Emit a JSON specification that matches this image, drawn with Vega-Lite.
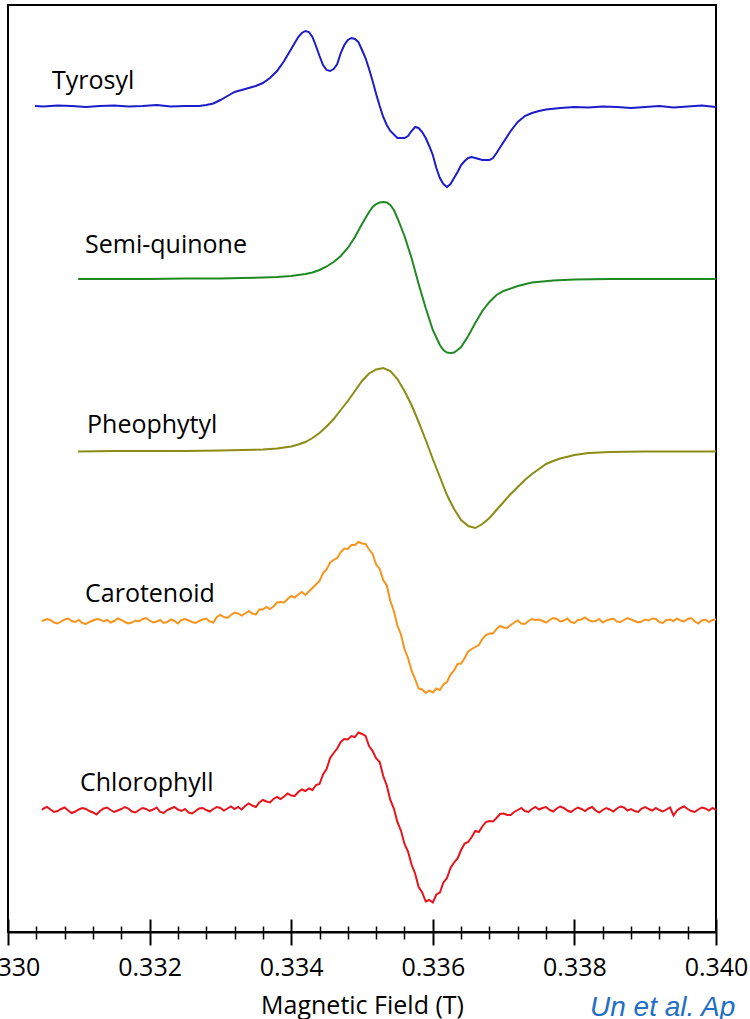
{
"$schema": "https://vega.github.io/schema/vega-lite/v6.json",
"autosize": {"type": "none"},
"width": 708,
"height": 927,
"padding": {"left": 8, "top": 5, "right": 34, "bottom": 87},
"background": "white",
"title": {"text": "Un et al. Ap", "orient": "bottom", "anchor": "end", "frame": "group", "align": "left", "dx": -126, "offset": -24, "color": "#1f6fc5", "font": "Liberation Sans", "fontStyle": "italic", "fontWeight": "normal", "fontSize": 28},
"config": {"view": {"stroke": "black", "strokeWidth": 2}, "axis": {"grid": false}},
"datasets": {
"labels": [
{"label": "Tyrosyl", "B": 0.330621, "amp": 843},
{"label": "Semi-quinone", "B": 0.331088, "amp": 679},
{"label": "Pheophytyl", "B": 0.331116, "amp": 499},
{"label": "Carotenoid", "B": 0.331088, "amp": 330},
{"label": "Chlorophyll", "B": 0.331017, "amp": 141}
],
"spectra": [
{"series":"Tyrosyl","B":0.33038,"amp":826},{"series":"Tyrosyl","B":0.3305,"amp":825.5},{"series":"Tyrosyl","B":0.3307,"amp":826.5},{"series":"Tyrosyl","B":0.3309,"amp":826},{"series":"Tyrosyl","B":0.3311,"amp":825},{"series":"Tyrosyl","B":0.3313,"amp":826},{"series":"Tyrosyl","B":0.3315,"amp":826.5},{"series":"Tyrosyl","B":0.3317,"amp":825.5},{"series":"Tyrosyl","B":0.3319,"amp":826},{"series":"Tyrosyl","B":0.3321,"amp":827},{"series":"Tyrosyl","B":0.3323,"amp":825.5},{"series":"Tyrosyl","B":0.3325,"amp":826},{"series":"Tyrosyl","B":0.3327,"amp":826},{"series":"Tyrosyl","B":0.3328,"amp":827},{"series":"Tyrosyl","B":0.3329,"amp":828.5},{"series":"Tyrosyl","B":0.333,"amp":832},{"series":"Tyrosyl","B":0.3331,"amp":836},{"series":"Tyrosyl","B":0.3332,"amp":840},{"series":"Tyrosyl","B":0.3333,"amp":842},{"series":"Tyrosyl","B":0.3334,"amp":844},{"series":"Tyrosyl","B":0.3335,"amp":846},{"series":"Tyrosyl","B":0.3336,"amp":849},{"series":"Tyrosyl","B":0.3337,"amp":854},{"series":"Tyrosyl","B":0.3338,"amp":861},{"series":"Tyrosyl","B":0.3339,"amp":871},{"series":"Tyrosyl","B":0.334,"amp":883},{"series":"Tyrosyl","B":0.3341,"amp":895},{"series":"Tyrosyl","B":0.33415,"amp":899},{"series":"Tyrosyl","B":0.3342,"amp":901},{"series":"Tyrosyl","B":0.33425,"amp":900},{"series":"Tyrosyl","B":0.3343,"amp":895},{"series":"Tyrosyl","B":0.33435,"amp":886},{"series":"Tyrosyl","B":0.3344,"amp":876},{"series":"Tyrosyl","B":0.33445,"amp":867},{"series":"Tyrosyl","B":0.3345,"amp":862},{"series":"Tyrosyl","B":0.33455,"amp":861},{"series":"Tyrosyl","B":0.3346,"amp":863},{"series":"Tyrosyl","B":0.33465,"amp":868},{"series":"Tyrosyl","B":0.3347,"amp":879},{"series":"Tyrosyl","B":0.33475,"amp":887},{"series":"Tyrosyl","B":0.3348,"amp":892},{"series":"Tyrosyl","B":0.33485,"amp":894},{"series":"Tyrosyl","B":0.3349,"amp":893},{"series":"Tyrosyl","B":0.33495,"amp":890},{"series":"Tyrosyl","B":0.335,"amp":882},{"series":"Tyrosyl","B":0.33505,"amp":874},{"series":"Tyrosyl","B":0.3351,"amp":863},{"series":"Tyrosyl","B":0.33515,"amp":851},{"series":"Tyrosyl","B":0.3352,"amp":838},{"series":"Tyrosyl","B":0.33525,"amp":826},{"series":"Tyrosyl","B":0.3353,"amp":815},{"series":"Tyrosyl","B":0.33535,"amp":807},{"series":"Tyrosyl","B":0.3354,"amp":801},{"series":"Tyrosyl","B":0.3355,"amp":794},{"series":"Tyrosyl","B":0.3356,"amp":794},{"series":"Tyrosyl","B":0.33565,"amp":796},{"series":"Tyrosyl","B":0.3357,"amp":801},{"series":"Tyrosyl","B":0.33575,"amp":805},{"series":"Tyrosyl","B":0.3358,"amp":804},{"series":"Tyrosyl","B":0.33585,"amp":800},{"series":"Tyrosyl","B":0.3359,"amp":794},{"series":"Tyrosyl","B":0.33595,"amp":786},{"series":"Tyrosyl","B":0.336,"amp":777},{"series":"Tyrosyl","B":0.33605,"amp":764},{"series":"Tyrosyl","B":0.3361,"amp":754},{"series":"Tyrosyl","B":0.33615,"amp":748},{"series":"Tyrosyl","B":0.3362,"amp":745},{"series":"Tyrosyl","B":0.33625,"amp":748},{"series":"Tyrosyl","B":0.3363,"amp":754},{"series":"Tyrosyl","B":0.33635,"amp":760},{"series":"Tyrosyl","B":0.3364,"amp":767},{"series":"Tyrosyl","B":0.33645,"amp":771},{"series":"Tyrosyl","B":0.3365,"amp":774},{"series":"Tyrosyl","B":0.33655,"amp":775},{"series":"Tyrosyl","B":0.3366,"amp":774},{"series":"Tyrosyl","B":0.3367,"amp":772},{"series":"Tyrosyl","B":0.3368,"amp":772},{"series":"Tyrosyl","B":0.33685,"amp":774},{"series":"Tyrosyl","B":0.3369,"amp":779},{"series":"Tyrosyl","B":0.337,"amp":790},{"series":"Tyrosyl","B":0.3371,"amp":801},{"series":"Tyrosyl","B":0.3372,"amp":810},{"series":"Tyrosyl","B":0.3373,"amp":816},{"series":"Tyrosyl","B":0.3374,"amp":819},{"series":"Tyrosyl","B":0.3375,"amp":821},{"series":"Tyrosyl","B":0.3376,"amp":822.5},{"series":"Tyrosyl","B":0.3378,"amp":824},{"series":"Tyrosyl","B":0.338,"amp":825},{"series":"Tyrosyl","B":0.3382,"amp":824.5},{"series":"Tyrosyl","B":0.3384,"amp":825.5},{"series":"Tyrosyl","B":0.3386,"amp":825},{"series":"Tyrosyl","B":0.3388,"amp":824},{"series":"Tyrosyl","B":0.339,"amp":825},{"series":"Tyrosyl","B":0.3392,"amp":826},{"series":"Tyrosyl","B":0.3394,"amp":824.5},{"series":"Tyrosyl","B":0.3396,"amp":825.5},{"series":"Tyrosyl","B":0.3398,"amp":826.5},{"series":"Tyrosyl","B":0.34,"amp":825},

{"series":"Semi-quinone","B":0.33099,"amp":653},{"series":"Semi-quinone","B":0.3315,"amp":653},{"series":"Semi-quinone","B":0.332,"amp":653},{"series":"Semi-quinone","B":0.3325,"amp":653.5},{"series":"Semi-quinone","B":0.333,"amp":653.5},{"series":"Semi-quinone","B":0.3333,"amp":654},{"series":"Semi-quinone","B":0.3336,"amp":654.5},{"series":"Semi-quinone","B":0.3338,"amp":655},{"series":"Semi-quinone","B":0.334,"amp":656},{"series":"Semi-quinone","B":0.3342,"amp":658},{"series":"Semi-quinone","B":0.3343,"amp":659.5},{"series":"Semi-quinone","B":0.3344,"amp":662},{"series":"Semi-quinone","B":0.3345,"amp":665.5},{"series":"Semi-quinone","B":0.3346,"amp":670},{"series":"Semi-quinone","B":0.3347,"amp":676},{"series":"Semi-quinone","B":0.3348,"amp":684},{"series":"Semi-quinone","B":0.3349,"amp":695},{"series":"Semi-quinone","B":0.335,"amp":708},{"series":"Semi-quinone","B":0.3351,"amp":720},{"series":"Semi-quinone","B":0.33515,"amp":725},{"series":"Semi-quinone","B":0.3352,"amp":728},{"series":"Semi-quinone","B":0.33525,"amp":729.5},{"series":"Semi-quinone","B":0.3353,"amp":730},{"series":"Semi-quinone","B":0.33535,"amp":729.5},{"series":"Semi-quinone","B":0.3354,"amp":727},{"series":"Semi-quinone","B":0.33545,"amp":722},{"series":"Semi-quinone","B":0.3355,"amp":714},{"series":"Semi-quinone","B":0.3356,"amp":696},{"series":"Semi-quinone","B":0.3357,"amp":674},{"series":"Semi-quinone","B":0.3358,"amp":648},{"series":"Semi-quinone","B":0.3359,"amp":624},{"series":"Semi-quinone","B":0.336,"amp":602},{"series":"Semi-quinone","B":0.3361,"amp":587},{"series":"Semi-quinone","B":0.33615,"amp":582},{"series":"Semi-quinone","B":0.3362,"amp":579.5},{"series":"Semi-quinone","B":0.33625,"amp":579},{"series":"Semi-quinone","B":0.3363,"amp":579.5},{"series":"Semi-quinone","B":0.33635,"amp":582},{"series":"Semi-quinone","B":0.3364,"amp":585},{"series":"Semi-quinone","B":0.3365,"amp":596},{"series":"Semi-quinone","B":0.3366,"amp":609},{"series":"Semi-quinone","B":0.3367,"amp":621},{"series":"Semi-quinone","B":0.3368,"amp":630},{"series":"Semi-quinone","B":0.3369,"amp":637},{"series":"Semi-quinone","B":0.337,"amp":641},{"series":"Semi-quinone","B":0.3372,"amp":646},{"series":"Semi-quinone","B":0.3374,"amp":649.5},{"series":"Semi-quinone","B":0.3377,"amp":651.5},{"series":"Semi-quinone","B":0.338,"amp":652.5},{"series":"Semi-quinone","B":0.3385,"amp":653},{"series":"Semi-quinone","B":0.339,"amp":653},{"series":"Semi-quinone","B":0.3395,"amp":653},{"series":"Semi-quinone","B":0.34,"amp":653},

{"series":"Pheophytyl","B":0.33099,"amp":480.5},{"series":"Pheophytyl","B":0.3315,"amp":481},{"series":"Pheophytyl","B":0.332,"amp":481},{"series":"Pheophytyl","B":0.3325,"amp":481},{"series":"Pheophytyl","B":0.333,"amp":481.5},{"series":"Pheophytyl","B":0.3333,"amp":482},{"series":"Pheophytyl","B":0.3336,"amp":482.5},{"series":"Pheophytyl","B":0.3338,"amp":483.5},{"series":"Pheophytyl","B":0.334,"amp":485.5},{"series":"Pheophytyl","B":0.3341,"amp":487.5},{"series":"Pheophytyl","B":0.3342,"amp":490},{"series":"Pheophytyl","B":0.3343,"amp":494},{"series":"Pheophytyl","B":0.3344,"amp":499},{"series":"Pheophytyl","B":0.3345,"amp":505.5},{"series":"Pheophytyl","B":0.3346,"amp":513},{"series":"Pheophytyl","B":0.3347,"amp":522},{"series":"Pheophytyl","B":0.3348,"amp":531},{"series":"Pheophytyl","B":0.3349,"amp":541},{"series":"Pheophytyl","B":0.335,"amp":551},{"series":"Pheophytyl","B":0.3351,"amp":558.5},{"series":"Pheophytyl","B":0.3352,"amp":562.5},{"series":"Pheophytyl","B":0.3353,"amp":564},{"series":"Pheophytyl","B":0.3354,"amp":561},{"series":"Pheophytyl","B":0.3355,"amp":553},{"series":"Pheophytyl","B":0.3356,"amp":541},{"series":"Pheophytyl","B":0.3357,"amp":527},{"series":"Pheophytyl","B":0.3358,"amp":510},{"series":"Pheophytyl","B":0.3359,"amp":492},{"series":"Pheophytyl","B":0.336,"amp":473},{"series":"Pheophytyl","B":0.3361,"amp":455},{"series":"Pheophytyl","B":0.3362,"amp":437},{"series":"Pheophytyl","B":0.3363,"amp":423},{"series":"Pheophytyl","B":0.3364,"amp":412},{"series":"Pheophytyl","B":0.3365,"amp":406},{"series":"Pheophytyl","B":0.3366,"amp":404},{"series":"Pheophytyl","B":0.3367,"amp":408},{"series":"Pheophytyl","B":0.3368,"amp":414},{"series":"Pheophytyl","B":0.3369,"amp":422},{"series":"Pheophytyl","B":0.337,"amp":430},{"series":"Pheophytyl","B":0.3371,"amp":438},{"series":"Pheophytyl","B":0.3372,"amp":445},{"series":"Pheophytyl","B":0.3373,"amp":452},{"series":"Pheophytyl","B":0.3374,"amp":458},{"series":"Pheophytyl","B":0.3375,"amp":463},{"series":"Pheophytyl","B":0.3376,"amp":468},{"series":"Pheophytyl","B":0.3377,"amp":471},{"series":"Pheophytyl","B":0.3378,"amp":473.5},{"series":"Pheophytyl","B":0.338,"amp":477},{"series":"Pheophytyl","B":0.3382,"amp":479},{"series":"Pheophytyl","B":0.3385,"amp":480},{"series":"Pheophytyl","B":0.339,"amp":480.5},{"series":"Pheophytyl","B":0.3395,"amp":480.5},{"series":"Pheophytyl","B":0.34,"amp":480.5},

{"series":"Carotenoid","B":0.33048,"amp":311},{"series":"Carotenoid","B":0.3305,"amp":311.5},{"series":"Carotenoid","B":0.33055,"amp":313},{"series":"Carotenoid","B":0.3306,"amp":312},{"series":"Carotenoid","B":0.33065,"amp":309.5},{"series":"Carotenoid","B":0.3307,"amp":308.5},{"series":"Carotenoid","B":0.33075,"amp":310.5},{"series":"Carotenoid","B":0.3308,"amp":312.5},{"series":"Carotenoid","B":0.33085,"amp":313.5},{"series":"Carotenoid","B":0.3309,"amp":311},{"series":"Carotenoid","B":0.33095,"amp":310},{"series":"Carotenoid","B":0.331,"amp":312},{"series":"Carotenoid","B":0.33105,"amp":309},{"series":"Carotenoid","B":0.3311,"amp":308},{"series":"Carotenoid","B":0.33115,"amp":310},{"series":"Carotenoid","B":0.3312,"amp":311.5},{"series":"Carotenoid","B":0.33125,"amp":313},{"series":"Carotenoid","B":0.3313,"amp":312.5},{"series":"Carotenoid","B":0.33135,"amp":310.5},{"series":"Carotenoid","B":0.3314,"amp":312},{"series":"Carotenoid","B":0.33145,"amp":309.5},{"series":"Carotenoid","B":0.3315,"amp":311},{"series":"Carotenoid","B":0.33155,"amp":313.5},{"series":"Carotenoid","B":0.3316,"amp":312},{"series":"Carotenoid","B":0.33165,"amp":310},{"series":"Carotenoid","B":0.3317,"amp":308.5},{"series":"Carotenoid","B":0.33175,"amp":309.5},{"series":"Carotenoid","B":0.3318,"amp":311.5},{"series":"Carotenoid","B":0.33185,"amp":310.5},{"series":"Carotenoid","B":0.3319,"amp":313},{"series":"Carotenoid","B":0.33195,"amp":314},{"series":"Carotenoid","B":0.332,"amp":311.5},{"series":"Carotenoid","B":0.33205,"amp":309.5},{"series":"Carotenoid","B":0.3321,"amp":310.5},{"series":"Carotenoid","B":0.33215,"amp":312},{"series":"Carotenoid","B":0.3322,"amp":309},{"series":"Carotenoid","B":0.33225,"amp":310},{"series":"Carotenoid","B":0.3323,"amp":312.5},{"series":"Carotenoid","B":0.33235,"amp":311},{"series":"Carotenoid","B":0.3324,"amp":308.5},{"series":"Carotenoid","B":0.33245,"amp":312},{"series":"Carotenoid","B":0.3325,"amp":313},{"series":"Carotenoid","B":0.33255,"amp":311.5},{"series":"Carotenoid","B":0.3326,"amp":310},{"series":"Carotenoid","B":0.33265,"amp":309},{"series":"Carotenoid","B":0.3327,"amp":311},{"series":"Carotenoid","B":0.33275,"amp":312.5},{"series":"Carotenoid","B":0.3328,"amp":313.5},{"series":"Carotenoid","B":0.33285,"amp":310.5},{"series":"Carotenoid","B":0.3329,"amp":309.5},{"series":"Carotenoid","B":0.33295,"amp":315},{"series":"Carotenoid","B":0.333,"amp":317},{"series":"Carotenoid","B":0.33305,"amp":315},{"series":"Carotenoid","B":0.3331,"amp":314},{"series":"Carotenoid","B":0.33315,"amp":317},{"series":"Carotenoid","B":0.3332,"amp":319.5},{"series":"Carotenoid","B":0.33325,"amp":318.5},{"series":"Carotenoid","B":0.3333,"amp":316.5},{"series":"Carotenoid","B":0.33335,"amp":318.5},{"series":"Carotenoid","B":0.3334,"amp":321},{"series":"Carotenoid","B":0.33345,"amp":318.5},{"series":"Carotenoid","B":0.3335,"amp":317.5},{"series":"Carotenoid","B":0.33355,"amp":322.5},{"series":"Carotenoid","B":0.3336,"amp":322.5},{"series":"Carotenoid","B":0.33365,"amp":325},{"series":"Carotenoid","B":0.3337,"amp":323},{"series":"Carotenoid","B":0.33375,"amp":325.5},{"series":"Carotenoid","B":0.3338,"amp":329.5},{"series":"Carotenoid","B":0.33385,"amp":330},{"series":"Carotenoid","B":0.3339,"amp":329.5},{"series":"Carotenoid","B":0.33395,"amp":333},{"series":"Carotenoid","B":0.334,"amp":336},{"series":"Carotenoid","B":0.33405,"amp":334.5},{"series":"Carotenoid","B":0.3341,"amp":337.5},{"series":"Carotenoid","B":0.33415,"amp":340},{"series":"Carotenoid","B":0.3342,"amp":337},{"series":"Carotenoid","B":0.33425,"amp":340.5},{"series":"Carotenoid","B":0.3343,"amp":344},{"series":"Carotenoid","B":0.33435,"amp":347.5},{"series":"Carotenoid","B":0.3344,"amp":351},{"series":"Carotenoid","B":0.33445,"amp":359},{"series":"Carotenoid","B":0.3345,"amp":362.5},{"series":"Carotenoid","B":0.33455,"amp":369.5},{"series":"Carotenoid","B":0.3346,"amp":372},{"series":"Carotenoid","B":0.33465,"amp":374},{"series":"Carotenoid","B":0.3347,"amp":380},{"series":"Carotenoid","B":0.33475,"amp":383.5},{"series":"Carotenoid","B":0.3348,"amp":383},{"series":"Carotenoid","B":0.33485,"amp":387},{"series":"Carotenoid","B":0.3349,"amp":387},{"series":"Carotenoid","B":0.33495,"amp":390},{"series":"Carotenoid","B":0.335,"amp":388.5},{"series":"Carotenoid","B":0.33505,"amp":388},{"series":"Carotenoid","B":0.3351,"amp":382.5},{"series":"Carotenoid","B":0.33515,"amp":378},{"series":"Carotenoid","B":0.3352,"amp":367.5},{"series":"Carotenoid","B":0.33525,"amp":363},{"series":"Carotenoid","B":0.3353,"amp":352},{"series":"Carotenoid","B":0.33535,"amp":346.5},{"series":"Carotenoid","B":0.3354,"amp":331},{"series":"Carotenoid","B":0.33545,"amp":321},{"series":"Carotenoid","B":0.3355,"amp":306.5},{"series":"Carotenoid","B":0.33555,"amp":297.5},{"series":"Carotenoid","B":0.3356,"amp":283},{"series":"Carotenoid","B":0.33565,"amp":274},{"series":"Carotenoid","B":0.3357,"amp":261.5},{"series":"Carotenoid","B":0.33575,"amp":253},{"series":"Carotenoid","B":0.3358,"amp":243.5},{"series":"Carotenoid","B":0.33585,"amp":242.5},{"series":"Carotenoid","B":0.3359,"amp":239},{"series":"Carotenoid","B":0.33595,"amp":241.5},{"series":"Carotenoid","B":0.336,"amp":239.5},{"series":"Carotenoid","B":0.33605,"amp":243.5},{"series":"Carotenoid","B":0.3361,"amp":242},{"series":"Carotenoid","B":0.33615,"amp":247.5},{"series":"Carotenoid","B":0.3362,"amp":250},{"series":"Carotenoid","B":0.33625,"amp":257.5},{"series":"Carotenoid","B":0.3363,"amp":261.5},{"series":"Carotenoid","B":0.33635,"amp":268},{"series":"Carotenoid","B":0.3364,"amp":268.5},{"series":"Carotenoid","B":0.33645,"amp":274},{"series":"Carotenoid","B":0.3365,"amp":280.5},{"series":"Carotenoid","B":0.33655,"amp":283},{"series":"Carotenoid","B":0.3366,"amp":285},{"series":"Carotenoid","B":0.33665,"amp":287},{"series":"Carotenoid","B":0.3367,"amp":293},{"series":"Carotenoid","B":0.33675,"amp":297},{"series":"Carotenoid","B":0.3368,"amp":298.5},{"series":"Carotenoid","B":0.33685,"amp":298.5},{"series":"Carotenoid","B":0.3369,"amp":303},{"series":"Carotenoid","B":0.33695,"amp":306},{"series":"Carotenoid","B":0.337,"amp":304.5},{"series":"Carotenoid","B":0.33705,"amp":304},{"series":"Carotenoid","B":0.3371,"amp":307},{"series":"Carotenoid","B":0.33715,"amp":309.5},{"series":"Carotenoid","B":0.3372,"amp":311.5},{"series":"Carotenoid","B":0.33725,"amp":308.5},{"series":"Carotenoid","B":0.3373,"amp":308},{"series":"Carotenoid","B":0.33735,"amp":311},{"series":"Carotenoid","B":0.3374,"amp":313},{"series":"Carotenoid","B":0.33745,"amp":312},{"series":"Carotenoid","B":0.3375,"amp":312.5},{"series":"Carotenoid","B":0.33755,"amp":311},{"series":"Carotenoid","B":0.3376,"amp":309.5},{"series":"Carotenoid","B":0.33765,"amp":312},{"series":"Carotenoid","B":0.3377,"amp":314},{"series":"Carotenoid","B":0.33775,"amp":313},{"series":"Carotenoid","B":0.3378,"amp":310.5},{"series":"Carotenoid","B":0.33785,"amp":311.5},{"series":"Carotenoid","B":0.3379,"amp":313.5},{"series":"Carotenoid","B":0.33795,"amp":310},{"series":"Carotenoid","B":0.338,"amp":309},{"series":"Carotenoid","B":0.33805,"amp":312},{"series":"Carotenoid","B":0.3381,"amp":312.5},{"series":"Carotenoid","B":0.33815,"amp":314.5},{"series":"Carotenoid","B":0.3382,"amp":312},{"series":"Carotenoid","B":0.33825,"amp":310.5},{"series":"Carotenoid","B":0.3383,"amp":311},{"series":"Carotenoid","B":0.33835,"amp":313},{"series":"Carotenoid","B":0.3384,"amp":309.5},{"series":"Carotenoid","B":0.33845,"amp":311.5},{"series":"Carotenoid","B":0.3385,"amp":312.5},{"series":"Carotenoid","B":0.33855,"amp":313.5},{"series":"Carotenoid","B":0.3386,"amp":310.5},{"series":"Carotenoid","B":0.33865,"amp":310},{"series":"Carotenoid","B":0.3387,"amp":312},{"series":"Carotenoid","B":0.33875,"amp":314},{"series":"Carotenoid","B":0.3388,"amp":312.5},{"series":"Carotenoid","B":0.33885,"amp":311},{"series":"Carotenoid","B":0.3389,"amp":309.5},{"series":"Carotenoid","B":0.33895,"amp":310.5},{"series":"Carotenoid","B":0.339,"amp":312.5},{"series":"Carotenoid","B":0.33905,"amp":311.5},{"series":"Carotenoid","B":0.3391,"amp":313.5},{"series":"Carotenoid","B":0.33915,"amp":313},{"series":"Carotenoid","B":0.3392,"amp":310},{"series":"Carotenoid","B":0.33925,"amp":309},{"series":"Carotenoid","B":0.3393,"amp":312},{"series":"Carotenoid","B":0.33935,"amp":312.5},{"series":"Carotenoid","B":0.3394,"amp":311},{"series":"Carotenoid","B":0.33945,"amp":313.5},{"series":"Carotenoid","B":0.3395,"amp":311.5},{"series":"Carotenoid","B":0.33955,"amp":310.5},{"series":"Carotenoid","B":0.3396,"amp":313},{"series":"Carotenoid","B":0.33965,"amp":314},{"series":"Carotenoid","B":0.3397,"amp":310.5},{"series":"Carotenoid","B":0.33975,"amp":308.5},{"series":"Carotenoid","B":0.3398,"amp":311.5},{"series":"Carotenoid","B":0.33985,"amp":312.5},{"series":"Carotenoid","B":0.3399,"amp":310},{"series":"Carotenoid","B":0.33995,"amp":312},{"series":"Carotenoid","B":0.34,"amp":312.5},

{"series":"Chlorophyll","B":0.33048,"amp":122},{"series":"Chlorophyll","B":0.3305,"amp":123.5},{"series":"Chlorophyll","B":0.33055,"amp":125},{"series":"Chlorophyll","B":0.3306,"amp":122.5},{"series":"Chlorophyll","B":0.33065,"amp":120},{"series":"Chlorophyll","B":0.3307,"amp":121},{"series":"Chlorophyll","B":0.33075,"amp":123},{"series":"Chlorophyll","B":0.3308,"amp":124.5},{"series":"Chlorophyll","B":0.33085,"amp":121.5},{"series":"Chlorophyll","B":0.3309,"amp":119},{"series":"Chlorophyll","B":0.33095,"amp":120.5},{"series":"Chlorophyll","B":0.331,"amp":122.5},{"series":"Chlorophyll","B":0.33105,"amp":124},{"series":"Chlorophyll","B":0.3311,"amp":123},{"series":"Chlorophyll","B":0.33115,"amp":121},{"series":"Chlorophyll","B":0.3312,"amp":119.5},{"series":"Chlorophyll","B":0.33125,"amp":117.5},{"series":"Chlorophyll","B":0.3313,"amp":121},{"series":"Chlorophyll","B":0.33135,"amp":123.5},{"series":"Chlorophyll","B":0.3314,"amp":124.5},{"series":"Chlorophyll","B":0.33145,"amp":122},{"series":"Chlorophyll","B":0.3315,"amp":120},{"series":"Chlorophyll","B":0.33155,"amp":121.5},{"series":"Chlorophyll","B":0.3316,"amp":123},{"series":"Chlorophyll","B":0.33165,"amp":125},{"series":"Chlorophyll","B":0.3317,"amp":123.5},{"series":"Chlorophyll","B":0.33175,"amp":120.5},{"series":"Chlorophyll","B":0.3318,"amp":119.5},{"series":"Chlorophyll","B":0.33185,"amp":122},{"series":"Chlorophyll","B":0.3319,"amp":124},{"series":"Chlorophyll","B":0.33195,"amp":123},{"series":"Chlorophyll","B":0.332,"amp":121},{"series":"Chlorophyll","B":0.33205,"amp":122.5},{"series":"Chlorophyll","B":0.3321,"amp":124.5},{"series":"Chlorophyll","B":0.33215,"amp":120},{"series":"Chlorophyll","B":0.3322,"amp":119},{"series":"Chlorophyll","B":0.33225,"amp":122},{"series":"Chlorophyll","B":0.3323,"amp":123.5},{"series":"Chlorophyll","B":0.33235,"amp":125},{"series":"Chlorophyll","B":0.3324,"amp":122.5},{"series":"Chlorophyll","B":0.33245,"amp":121},{"series":"Chlorophyll","B":0.3325,"amp":123},{"series":"Chlorophyll","B":0.33255,"amp":119.5},{"series":"Chlorophyll","B":0.3326,"amp":118.5},{"series":"Chlorophyll","B":0.33265,"amp":121},{"series":"Chlorophyll","B":0.3327,"amp":123.5},{"series":"Chlorophyll","B":0.33275,"amp":124},{"series":"Chlorophyll","B":0.3328,"amp":122},{"series":"Chlorophyll","B":0.33285,"amp":120.5},{"series":"Chlorophyll","B":0.3329,"amp":123},{"series":"Chlorophyll","B":0.33295,"amp":125},{"series":"Chlorophyll","B":0.333,"amp":124},{"series":"Chlorophyll","B":0.33305,"amp":121.5},{"series":"Chlorophyll","B":0.3331,"amp":123.5},{"series":"Chlorophyll","B":0.33315,"amp":125.5},{"series":"Chlorophyll","B":0.3332,"amp":123},{"series":"Chlorophyll","B":0.33325,"amp":125},{"series":"Chlorophyll","B":0.3333,"amp":122.5},{"series":"Chlorophyll","B":0.33335,"amp":126},{"series":"Chlorophyll","B":0.3334,"amp":128.5},{"series":"Chlorophyll","B":0.33345,"amp":126.5},{"series":"Chlorophyll","B":0.3335,"amp":125},{"series":"Chlorophyll","B":0.33355,"amp":129.5},{"series":"Chlorophyll","B":0.3336,"amp":132},{"series":"Chlorophyll","B":0.33365,"amp":130.5},{"series":"Chlorophyll","B":0.3337,"amp":129.5},{"series":"Chlorophyll","B":0.33375,"amp":133},{"series":"Chlorophyll","B":0.3338,"amp":135},{"series":"Chlorophyll","B":0.33385,"amp":133},{"series":"Chlorophyll","B":0.3339,"amp":135.5},{"series":"Chlorophyll","B":0.33395,"amp":138.5},{"series":"Chlorophyll","B":0.334,"amp":136.5},{"series":"Chlorophyll","B":0.33405,"amp":136},{"series":"Chlorophyll","B":0.3341,"amp":140},{"series":"Chlorophyll","B":0.33415,"amp":142.5},{"series":"Chlorophyll","B":0.3342,"amp":141},{"series":"Chlorophyll","B":0.33425,"amp":143.5},{"series":"Chlorophyll","B":0.3343,"amp":142},{"series":"Chlorophyll","B":0.33435,"amp":147},{"series":"Chlorophyll","B":0.3344,"amp":148},{"series":"Chlorophyll","B":0.33445,"amp":157.5},{"series":"Chlorophyll","B":0.3345,"amp":163},{"series":"Chlorophyll","B":0.33455,"amp":174},{"series":"Chlorophyll","B":0.3346,"amp":179},{"series":"Chlorophyll","B":0.33465,"amp":183.5},{"series":"Chlorophyll","B":0.3347,"amp":190},{"series":"Chlorophyll","B":0.33475,"amp":193},{"series":"Chlorophyll","B":0.3348,"amp":192.5},{"series":"Chlorophyll","B":0.33485,"amp":196},{"series":"Chlorophyll","B":0.3349,"amp":195},{"series":"Chlorophyll","B":0.33495,"amp":199.5},{"series":"Chlorophyll","B":0.335,"amp":198},{"series":"Chlorophyll","B":0.33505,"amp":196},{"series":"Chlorophyll","B":0.3351,"amp":186},{"series":"Chlorophyll","B":0.33515,"amp":181},{"series":"Chlorophyll","B":0.3352,"amp":173.5},{"series":"Chlorophyll","B":0.33525,"amp":170},{"series":"Chlorophyll","B":0.3353,"amp":156},{"series":"Chlorophyll","B":0.33535,"amp":146.5},{"series":"Chlorophyll","B":0.3354,"amp":132},{"series":"Chlorophyll","B":0.33545,"amp":123.5},{"series":"Chlorophyll","B":0.3355,"amp":110},{"series":"Chlorophyll","B":0.33555,"amp":101.5},{"series":"Chlorophyll","B":0.3356,"amp":88},{"series":"Chlorophyll","B":0.33565,"amp":80.5},{"series":"Chlorophyll","B":0.3357,"amp":67.5},{"series":"Chlorophyll","B":0.33575,"amp":58.5},{"series":"Chlorophyll","B":0.3358,"amp":45},{"series":"Chlorophyll","B":0.33585,"amp":39.5},{"series":"Chlorophyll","B":0.3359,"amp":30.5},{"series":"Chlorophyll","B":0.33595,"amp":32},{"series":"Chlorophyll","B":0.336,"amp":29.5},{"series":"Chlorophyll","B":0.33605,"amp":37.5},{"series":"Chlorophyll","B":0.3361,"amp":39.5},{"series":"Chlorophyll","B":0.33615,"amp":49.5},{"series":"Chlorophyll","B":0.3362,"amp":54},{"series":"Chlorophyll","B":0.33625,"amp":64},{"series":"Chlorophyll","B":0.3363,"amp":69.5},{"series":"Chlorophyll","B":0.33635,"amp":73.5},{"series":"Chlorophyll","B":0.3364,"amp":82},{"series":"Chlorophyll","B":0.33645,"amp":88.5},{"series":"Chlorophyll","B":0.3365,"amp":90},{"series":"Chlorophyll","B":0.33655,"amp":95},{"series":"Chlorophyll","B":0.3366,"amp":101},{"series":"Chlorophyll","B":0.33665,"amp":100},{"series":"Chlorophyll","B":0.3367,"amp":105.5},{"series":"Chlorophyll","B":0.33675,"amp":110},{"series":"Chlorophyll","B":0.3368,"amp":111},{"series":"Chlorophyll","B":0.33685,"amp":110.5},{"series":"Chlorophyll","B":0.3369,"amp":114},{"series":"Chlorophyll","B":0.33695,"amp":118},{"series":"Chlorophyll","B":0.337,"amp":118.5},{"series":"Chlorophyll","B":0.33705,"amp":117},{"series":"Chlorophyll","B":0.3371,"amp":117},{"series":"Chlorophyll","B":0.33715,"amp":120},{"series":"Chlorophyll","B":0.3372,"amp":122},{"series":"Chlorophyll","B":0.33725,"amp":124},{"series":"Chlorophyll","B":0.3373,"amp":121},{"series":"Chlorophyll","B":0.33735,"amp":120},{"series":"Chlorophyll","B":0.3374,"amp":123},{"series":"Chlorophyll","B":0.33745,"amp":125},{"series":"Chlorophyll","B":0.3375,"amp":122.5},{"series":"Chlorophyll","B":0.33755,"amp":124},{"series":"Chlorophyll","B":0.3376,"amp":125},{"series":"Chlorophyll","B":0.33765,"amp":122},{"series":"Chlorophyll","B":0.3377,"amp":120.5},{"series":"Chlorophyll","B":0.33775,"amp":123.5},{"series":"Chlorophyll","B":0.3378,"amp":125.5},{"series":"Chlorophyll","B":0.33785,"amp":124},{"series":"Chlorophyll","B":0.3379,"amp":121.5},{"series":"Chlorophyll","B":0.33795,"amp":120},{"series":"Chlorophyll","B":0.338,"amp":122.5},{"series":"Chlorophyll","B":0.33805,"amp":124.5},{"series":"Chlorophyll","B":0.3381,"amp":123},{"series":"Chlorophyll","B":0.33815,"amp":121},{"series":"Chlorophyll","B":0.3382,"amp":123.5},{"series":"Chlorophyll","B":0.33825,"amp":125},{"series":"Chlorophyll","B":0.3383,"amp":121.5},{"series":"Chlorophyll","B":0.33835,"amp":119.5},{"series":"Chlorophyll","B":0.3384,"amp":122},{"series":"Chlorophyll","B":0.33845,"amp":124},{"series":"Chlorophyll","B":0.3385,"amp":122.5},{"series":"Chlorophyll","B":0.33855,"amp":120.5},{"series":"Chlorophyll","B":0.3386,"amp":123.5},{"series":"Chlorophyll","B":0.33865,"amp":125.5},{"series":"Chlorophyll","B":0.3387,"amp":124.5},{"series":"Chlorophyll","B":0.33875,"amp":121.5},{"series":"Chlorophyll","B":0.3388,"amp":123},{"series":"Chlorophyll","B":0.33885,"amp":121},{"series":"Chlorophyll","B":0.3389,"amp":120},{"series":"Chlorophyll","B":0.33895,"amp":123.5},{"series":"Chlorophyll","B":0.339,"amp":125},{"series":"Chlorophyll","B":0.33905,"amp":123},{"series":"Chlorophyll","B":0.3391,"amp":121.5},{"series":"Chlorophyll","B":0.33915,"amp":124},{"series":"Chlorophyll","B":0.3392,"amp":122},{"series":"Chlorophyll","B":0.33925,"amp":120.5},{"series":"Chlorophyll","B":0.3393,"amp":122.5},{"series":"Chlorophyll","B":0.33935,"amp":124.5},{"series":"Chlorophyll","B":0.3394,"amp":116.5},{"series":"Chlorophyll","B":0.33945,"amp":121.5},{"series":"Chlorophyll","B":0.3395,"amp":124},{"series":"Chlorophyll","B":0.33955,"amp":125.5},{"series":"Chlorophyll","B":0.3396,"amp":123},{"series":"Chlorophyll","B":0.33965,"amp":121},{"series":"Chlorophyll","B":0.3397,"amp":120},{"series":"Chlorophyll","B":0.33975,"amp":122.5},{"series":"Chlorophyll","B":0.3398,"amp":124.5},{"series":"Chlorophyll","B":0.33985,"amp":123.5},{"series":"Chlorophyll","B":0.3399,"amp":121.5},{"series":"Chlorophyll","B":0.33995,"amp":124},{"series":"Chlorophyll","B":0.34,"amp":122}
]
},
"layer": [
{
"data": {"name": "spectra"},
"mark": {"type": "line", "strokeWidth": 2},
"encoding": {
"x": {"field": "B", "type": "quantitative", "scale": {"domain": [0.33, 0.34], "nice": false, "zero": false},
"axis": {"orient": "bottom", "values": [0.33, 0.332, 0.334, 0.336, 0.338, 0.34], "format": ".3f", "ticks": false, "tickSize": 0, "domain": true, "domainColor": "black", "domainWidth": 2, "labelFont": "Open Sans", "labelFontSize": 25, "labelColor": "black", "labelPadding": 23, "labelFlush": false, "labelOverlap": false, "labelBound": false, "title": "Magnetic Field (T)", "titleFont": "Open Sans", "titleFontSize": 25, "titleFontWeight": "normal", "titleColor": "black", "titlePadding": 13, "grid": false}},
"y": {"field": "amp", "type": "quantitative", "scale": {"domain": [0, 927], "nice": false, "zero": false}, "axis": null},
"color": {"field": "series", "type": "nominal", "scale": {"domain": ["Tyrosyl", "Semi-quinone", "Pheophytyl", "Carotenoid", "Chlorophyll"], "range": ["#1c1cc8", "#1f8a22", "#8c8c14", "#f7941d", "#e8141c"]}, "legend": null}
}
},
{
"data": {"name": "labels"},
"mark": {"type": "text", "align": "left", "baseline": "alphabetic", "font": "Open Sans", "fontSize": 25, "color": "black"},
"encoding": {
"x": {"field": "B", "type": "quantitative", "axis": {"orient": "bottom", "values": [0.33, 0.332, 0.334, 0.336, 0.338, 0.34], "offset": -13, "tickSize": 26, "tickWidth": 2, "tickColor": "black", "domain": false, "labels": false, "title": null, "grid": false}},
"y": {"field": "amp", "type": "quantitative", "axis": null},
"text": {"field": "label"}
}
},
{
"data": {"name": "labels"},
"mark": {"type": "point", "opacity": 0},
"encoding": {
"x": {"field": "B", "type": "quantitative", "axis": {"orient": "bottom", "values": [0.3304, 0.3308, 0.3312, 0.3316, 0.3324, 0.3328, 0.3332, 0.3336, 0.3344, 0.3348, 0.3352, 0.3356, 0.3364, 0.3368, 0.3372, 0.3376, 0.3384, 0.3388, 0.3392, 0.3396], "offset": -6, "tickSize": 13, "tickWidth": 1.5, "tickColor": "black", "domain": false, "labels": false, "title": null, "grid": false}},
"y": {"field": "amp", "type": "quantitative", "axis": null}
}
}
],
"resolve": {"axis": {"x": "independent"}}
}
